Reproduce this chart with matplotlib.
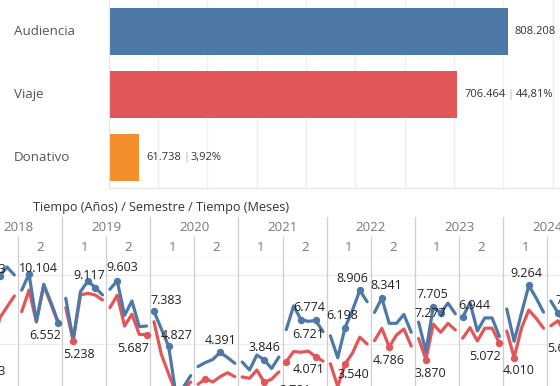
import numpy as np
import matplotlib
matplotlib.use("Agg")
import matplotlib.pyplot as plt
from matplotlib.transforms import blended_transform_factory
from matplotlib.offsetbox import TextArea, HPacker, AnnotationBbox

plt.rcParams['font.family'] = ['Open Sans', 'DejaVu Sans']

# ---------------- data ----------------
bar_categories = ["Audiencia", "Viaje", "Donativo"]
bar_values = [808208, 706464, 61738]
bar_shares = [None, "44,81%", "3,92%"]

header_title = "Tiempo (Años) / Semestre / Tiempo (Meses)"
years = ["2018", "2019", "2020", "2021", "2022", "2023", "2024"]
semesters = ["1", "2"]

nan = np.nan
# monthly values, one row per semester (2018-1 ... 2024-2), six months each
blue_values = [
    [nan, nan, nan, 9953, 10612, 10029],      # 2018 S1
    [8921, 10104, 6650, 9351, 8010, 6552],    # 2018 S2
    [8331, 5292, 8812, 9592, 9117, 8571],     # 2019 S1
    [8987, 9603, 7092, 8134, 6261, 6312],     # 2019 S2
    [7383, 6100, 4827, 1280, 1850, 2700],     # 2020 S1
    [3360, 3652, 3870, 4391, 4016, 3593],     # 2020 S2
    [3688, 3105, 4198, 3846, 3214, 4052],     # 2021 S1
    [6050, 7780, 6774, 6650, 6721, 5900],     # 2021 S2
    [5600, 4000, 6198, 7450, 8906, 8080],     # 2022 S1
    [7303, 8341, 6508, 6508, 7157, 5853],     # 2022 S2
    [6600, 4450, 7705, 7277, 7980, 7200],     # 2023 S1
    [6944, 8020, 5950, 6900, 6900, 5550],     # 2023 S2
    [7550, 5200, 7250, 9264, 8350, 7320],     # 2024 S1
    [8130, 7250, 6450, nan, nan, nan],        # 2024 S2
]
red_values = [
    [nan, nan, 3833, 6880, 7700, 8500],       # 2018 S1
    [7354, 8936, 6603, 9250, 7900, 6450],     # 2018 S2
    [7646, 5238, 8571, 8695, 8571, 8207],     # 2019 S1
    [7646, 8549, 6312, 7165, 5700, 5687],     # 2019 S2
    [6625, 4249, 2813, 1430, 1650, 2230],     # 2020 S1
    [2063, 2470, 2230, 2617, 2908, 2617],     # 2020 S2
    [2600, 2500, 3100, 2210, 2440, 2970],     # 2021 S1
    [3721, 4450, 4400, 4480, 4071, 3750],     # 2021 S2
    [3560, 1900, 3540, 4330, 5500, 5000],     # 2022 S1
    [5241, 6144, 4786, 5656, 6093, 4850],     # 2022 S2
    [5400, 3870, 6450, 5850, 6500, 6020],     # 2023 S1
    [5420, 6190, 5220, 6150, 6150, 5072],     # 2023 S2
    [5950, 4010, 6150, 7480, 6870, 6150],     # 2024 S1
    [6330, 6700, 5650, nan, nan, nan],        # 2024 S2
]

# labelled marks: (series, semester index, month index)
label_marks = [
    ("b", 0, 3), ("r", 0, 2), ("b", 1, 1), ("b", 1, 5), ("r", 2, 1), ("b", 2, 4),
    ("b", 3, 1), ("r", 3, 5), ("b", 4, 0), ("b", 4, 2), ("b", 5, 3), ("b", 6, 3),
    ("b", 7, 2), ("b", 7, 4), ("r", 7, 4), ("r", 7, 0), ("b", 8, 2), ("b", 8, 4),
    ("r", 8, 2), ("b", 9, 1), ("r", 9, 2), ("b", 10, 2), ("b", 10, 3), ("r", 10, 1),
    ("b", 11, 0), ("r", 11, 5), ("b", 12, 3), ("r", 12, 1), ("b", 13, 1), ("r", 13, 2),
]
extra_dots = [("b", 2, 3), ("r", 5, 1), ("r", 6, 3)]

# ---------------- styling / layout ----------------
label_offsets_px = [
    (-9.7, -7), (-2.3, 11), (9.4, -5), (-13.5, 13), (6, 13.5), (-5.5, -12.5),
    (5, -13), (-13, 14), (12, -11), (8, -11), (0, -11.5), (0, -12),
    (8, -12), (-7, 14), (-7, 13), (9, 29), (-2.5, -12), (-7, -12),
    (8, 10), (4.5, -13), (-0.7, 14), (-1, -12.5), (-10, 0.6), (4.5, 14),
    (12, -11.6), (-14.5, 13.7), (-2, -11.5), (4.3, 13.4), (12.7, -13), (-2.6, 13),
]

W, H = 560, 386
BLUE, RED, ORANGE = "#4e79a7", "#e15759", "#f28e2b"
fig = plt.figure(figsize=(W / 100, H / 100), dpi=100)


def rect(x0, y0, x1, y1):
    return [x0 / W, 1 - y1 / H, (x1 - x0) / W, (y1 - y0) / H]


def fmt(v):
    return f"{int(round(v)):,}".replace(",", ".")


# ---- top bar chart ----
ax1 = fig.add_axes(rect(108.5, 0, 560, 188))
px_per_unit = 49.37 / 100000
ax1.barh(range(len(bar_values)), bar_values, height=0.746,
         color=[BLUE, RED, ORANGE], zorder=2)
ax1.set_xticks(np.arange(0, 1000001, 100000))
ax1.set_xlim(0, (560 - 108.5) / px_per_unit)
ax1.set_ylim(2.484, -0.5)
ax1.set_yticks([])
ax1.tick_params(axis="x", length=0, labelbottom=False)
ax1.grid(axis="x", color="#efefef", lw=1, zorder=0)
for s in ["top", "right"]:
    ax1.spines[s].set_visible(False)
ax1.spines["left"].set_color("#e6e6e6")
ax1.spines["bottom"].set_color("#e6e6e6")

tr = blended_transform_factory(fig.transFigure, ax1.transData)
for i, cat in enumerate(bar_categories):
    ax1.text(14 / W, i, cat, transform=tr, ha="left", va="center",
             fontsize=9.6, color="#555555")
    parts = [TextArea(fmt(bar_values[i]), textprops=dict(fontsize=8, color="#333333"))]
    if bar_shares[i]:
        parts.append(TextArea("|", textprops=dict(fontsize=8, color="#b0b0b0")))
        parts.append(TextArea(bar_shares[i], textprops=dict(fontsize=8, color="#333333")))
    box = HPacker(children=parts, sep=1.5, pad=0, align="center")
    ab = AnnotationBbox(box, (bar_values[i], i), xybox=(5.0, 0),
                        boxcoords="offset points", box_alignment=(0, 0.5),
                        frameon=False, pad=0, annotation_clip=False)
    ax1.add_artist(ab)

# ---- title of the time headers ----
fig.text(33 / W, 1 - 208 / H, header_title, ha="left", va="center",
         fontsize=9.1, color="#333333")

# month-slot geometry
x_left_px, slot_px = -26.1, 7.35
xlim = (-x_left_px / slot_px, (W - x_left_px) / slot_px)
n_sem = len(blue_values)

# ---- header axes ----
axh = fig.add_axes(rect(0, 217, 560, 257))
axh.set_xlim(*xlim)
axh.set_ylim(0, 1)
axh.axis("off")
for k in range(len(years) + 1):
    axh.plot([12 * k, 12 * k], [0, 1], color="#cfcfcf", lw=0.9, clip_on=True)
for k in range(len(years)):
    axh.plot([12 * k + 6, 12 * k + 6], [0, 0.5], color="#cfcfcf", lw=0.9)
    axh.text(12 * k + 6, 0.74, years[k], ha="center", va="center",
             fontsize=9.5, color="#777777")
    for j, s in enumerate(semesters):
        if k == 0 and j == 0:
            continue  # first semester header lies outside the visible area
        axh.text(12 * k + 6 * j + 3, 0.24, s, ha="center", va="center",
                 fontsize=9.5, color="#777777")
axh.axhline(0, color="#d6d6d6", lw=0.9)

# ---- line panel ----
ax2 = fig.add_axes(rect(0, 257, 560, 386))
ax2.set_xlim(*xlim)
ax2.set_ylim(1939, 11341)
ax2.axis("off")
for gv in (5000, 10000):
    ax2.axhline(gv, color="#ececec", lw=1, zorder=0)
for k in range(n_sem + 1):
    ax2.axvline(6 * k, color="#cfcfcf", lw=0.9, zorder=1)

series = {"b": (blue_values, BLUE), "r": (red_values, RED)}
for key in ("r", "b"):
    vals, col = series[key]
    for k in range(n_sem):
        xs = 6 * k + np.arange(6) + 0.5
        ax2.plot(xs, vals[k], color=col, lw=2.3, solid_joinstyle="round",
                 solid_capstyle="round", zorder=3)

for key, k, m in label_marks + extra_dots:
    vals, col = series[key]
    ax2.plot(6 * k + m + 0.5, vals[k][m], "o", color=col, ms=4.3, zorder=4,
             clip_on=False)

for (key, k, m), (dx, dy) in zip(label_marks, label_offsets_px):
    vals, col = series[key]
    v = vals[k][m]
    ax2.annotate(fmt(v), (6 * k + m + 0.5, v), xytext=(dx * 0.72, -dy * 0.72),
                 textcoords="offset points", ha="center", va="center",
                 fontsize=9, color="#222222", annotation_clip=False, zorder=5)

fig.savefig("out.png", dpi=100)
